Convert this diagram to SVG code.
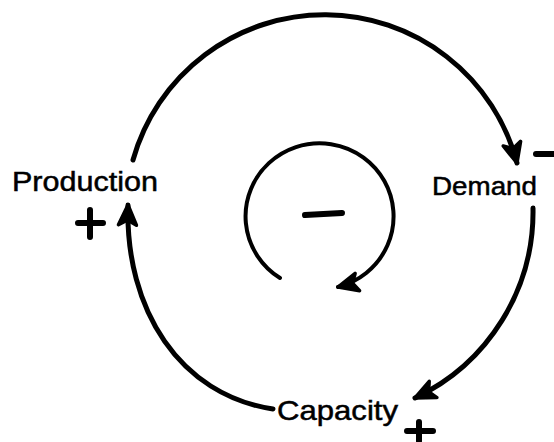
<svg xmlns="http://www.w3.org/2000/svg" width="554" height="442" viewBox="0 0 554 442">
  <style>
    .lbl { font-family: "Liberation Sans", Arial, sans-serif; fill: #000; stroke: #000; stroke-width: 0.5; }
    .arc { fill: none; stroke: #000; stroke-width: 5; stroke-linecap: round; }
    .inner { fill: none; stroke: #000; stroke-width: 4; stroke-linecap: round; }
    .sign { stroke: #000; stroke-width: 6; stroke-linecap: round; fill: none; }
  </style>
  <defs>
    <marker id="ah" markerUnits="userSpaceOnUse" viewBox="-24 -12 26 24" markerWidth="26" markerHeight="24" refX="0" refY="0" orient="auto" overflow="visible">
      <path d="M0,0 L-20,-9 L-15,0 L-20,9 Z" fill="#000" stroke="#000" stroke-width="3.5" stroke-linejoin="round"/>
    </marker>
  </defs>
  <rect width="554" height="442" fill="#fff"/>
  <g id="connectors">
    <path class="arc" d="M133,160 A199,199 0 0 1 517,163" marker-end="url(#ah)"/>
    <path class="arc" d="M533,208 A206,206 0 0 1 415,398" marker-end="url(#ah)"/>
    <path class="arc" d="M273,409 C180,395 125,310 128,205" marker-end="url(#ah)"/>
    <path class="inner" d="M280,278 A74,73 0 1 1 338,287" marker-end="url(#ah)"/>
  </g>
  <g id="loop-sign">
    <line class="sign" x1="305" y1="215" x2="342" y2="213" stroke-width="7"/>
  </g>
  <g id="production">
    <text class="lbl" x="12" y="191" font-size="27" textLength="146" lengthAdjust="spacingAndGlyphs">Production</text>
    <path class="sign" d="M78,223 H103 M90,210 V237"/>
  </g>
  <g id="demand">
    <text class="lbl" x="432" y="195" font-size="25" textLength="105" lengthAdjust="spacingAndGlyphs">Demand</text>
    <line class="sign" x1="536" y1="154" x2="553" y2="154"/>
  </g>
  <g id="capacity">
    <text class="lbl" x="277" y="420" font-size="28" textLength="121" lengthAdjust="spacingAndGlyphs">Capacity</text>
    <path class="sign" d="M407,431 H433 M419,422 V441"/>
  </g>
</svg>
